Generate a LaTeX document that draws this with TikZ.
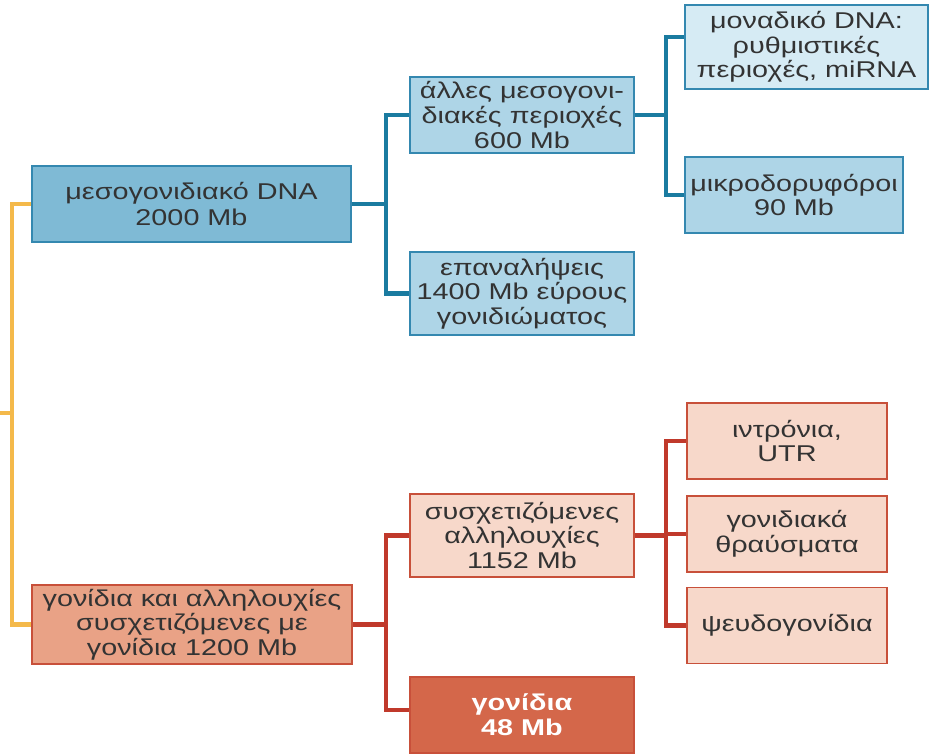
\documentclass[tikz,border=0pt]{standalone}
\usepackage{fontspec}
\setmainfont[FakeStretch=1.26]{Liberation Sans}
\usepackage{tikz}
\usetikzlibrary{positioning}

\definecolor{lineblue}{HTML}{1A7BA0}
\definecolor{edgeblue}{HTML}{3488B0}
\definecolor{fillblue}{HTML}{7FBAD5}
\definecolor{midblue}{HTML}{AED5E7}
\definecolor{paleblue}{HTML}{D6EBF4}
\definecolor{lineyellow}{HTML}{F4B94A}
\definecolor{linered}{HTML}{C0392B}
\definecolor{edgered}{HTML}{C8503A}
\definecolor{fillsalmon}{HTML}{E9A286}
\definecolor{palesalmon}{HTML}{F7D8CA}
\definecolor{deepsalmon}{HTML}{D4674A}
\definecolor{textgray}{HTML}{333333}

\begin{document}
\begin{tikzpicture}[
    font=\fontsize{13}{14}\selectfont,
    bluebox/.style={draw=edgeblue, line width=1pt, fill=midblue, text=textgray,
        minimum width=4.48cm, minimum height=1.52cm, align=center, inner sep=2pt},
    redbox/.style={draw=edgered, line width=1pt, fill=palesalmon, text=textgray,
        minimum width=4.48cm, minimum height=1.52cm, align=center, inner sep=2pt},
    bline/.style={draw=lineblue, line width=2.3pt},
    rline/.style={draw=linered, line width=2.3pt},
    yline/.style={draw=lineyellow, line width=2.3pt}
]
\useasboundingbox (0,0) rectangle (18.64,-15.08);

\node[bluebox, fill=fillblue, minimum width=6.38cm, font=\fontsize{13}{14.6}\selectfont] (inter) at (3.83,-4.08) {μεσογονιδιακό DNA\\2000 Mb};
\node[redbox, fill=fillsalmon, minimum width=6.4cm, minimum height=1.58cm] (genes) at (3.84,-12.49) {γονίδια και αλληλουχίες\\συσχετιζόμενες με\\γονίδια 1200 Mb};

\node[bluebox] (other) at (10.44,-2.30) {άλλες μεσογονι-\\διακές περιοχές\\600 Mb};
\node[bluebox, minimum height=1.66cm] (repeats) at (10.44,-5.87) {επαναλήψεις\\1400 Mb εύρους\\γονιδιώματος};
\node[bluebox, fill=paleblue, minimum width=4.86cm, minimum height=1.68cm] (unique) at (16.13,-0.94) {μοναδικό DNA:\\ρυθμιστικές\\περιοχές, miRNA};
\node[bluebox, minimum width=4.36cm] (microsat) at (15.88,-3.90) {μικροδορυφόροι\\90 Mb};

\node[redbox, minimum height=1.66cm] (assoc) at (10.44,-10.71) {συσχετιζόμενες\\αλληλουχίες\\1152 Mb};
\node[redbox, fill=deepsalmon, text=white, font=\fontsize{13}{14}\selectfont\bfseries] (genes48) at (10.44,-14.30) {γονίδια\\48 Mb};
\node[redbox, minimum width=4.0cm] (introns) at (15.74,-8.82) {ιντρόνια,\\UTR};
\node[redbox, minimum width=4.0cm] (fragments) at (15.74,-10.68) {γονιδιακά\\θραύσματα};
\node[redbox, minimum width=4.0cm] (pseudo) at (15.74,-12.51) {ψευδογονίδια};

\coordinate (root) at (0,-8.26);
\coordinate (trunk) at (0.24,-8.26);
\draw[yline] (root) -- (trunk);
\draw[yline] (inter.west) -| (trunk) |- (genes.west);

\foreach \n in {other,repeats}{\draw[bline] (inter.east) -- ++(0.68,0) |- (\n.west);}
\draw[bline] (other.east) -- ++(0.62,0) |- ([yshift=0.2cm]unique.west);
\draw[bline] (other.east) -- ++(0.62,0) |- (microsat.west);

\draw[rline] (genes.east) -- ++(0.66,0) |- (assoc.west);
\draw[rline] (genes.east) -- ++(0.66,0) |- ([yshift=0.1cm]genes48.west);
\foreach \n in {introns,fragments,pseudo}{\draw[rline] (assoc.east) -- ++(0.62,0) |- (\n.west);}
\end{tikzpicture}
\end{document}
